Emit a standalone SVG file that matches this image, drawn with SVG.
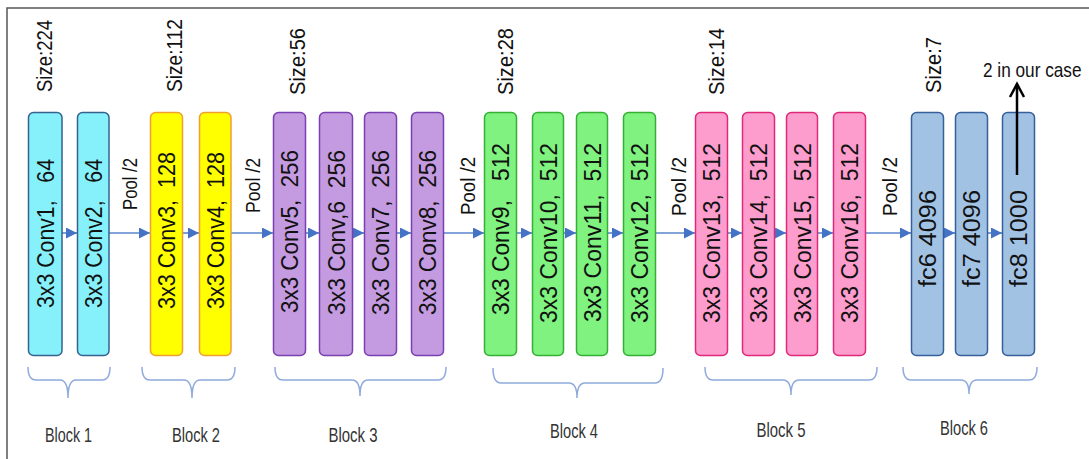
<svg xmlns="http://www.w3.org/2000/svg" width="1089" height="459" viewBox="0 0 1089 459">
<style>
.t{font-family:"Liberation Sans",Arial,sans-serif;fill:#111}
.bt{font-size:23px}
.sz{font-size:22px}
.pl{font-size:20px}
.blk{font-size:21px;fill:#333}
.c1{fill:#86f1fa;stroke:#35628f;stroke-width:1.5}
.c2{fill:#ffff00;stroke:#f0a030;stroke-width:1.5}
.c3{fill:#c49be0;stroke:#7a3fb0;stroke-width:1.5}
.c4{fill:#7ff27f;stroke:#35b035;stroke-width:1.5}
.c5{fill:#fd9dcd;stroke:#e0287a;stroke-width:1.5}
.c6{fill:#a2c2e4;stroke:#35609c;stroke-width:1.5}
.ln{stroke:#5a86cc;stroke-width:1.6;fill:none}
.br{stroke:#8faadc;stroke-width:1.5;fill:none}
</style>
<defs>
<marker id="ah" viewBox="0 0 10 10" refX="10" refY="5" markerWidth="11" markerHeight="11" markerUnits="userSpaceOnUse" orient="auto"><path d="M0,0 L10,5 L0,10 z" fill="#4472c4"/></marker>
</defs>
<g id="frame"><path d="M7,459 L7,8 L1089,8" fill="none" stroke="#555" stroke-width="1.5"/></g>

<g id="connectors">
<line class="ln" x1="62" y1="233" x2="77" y2="233" marker-end="url(#ah)"/>
<line class="ln" x1="109" y1="233" x2="150" y2="233" marker-end="url(#ah)"/>
<line class="ln" x1="183" y1="233" x2="199" y2="233" marker-end="url(#ah)"/>
<line class="ln" x1="231" y1="233" x2="273" y2="233" marker-end="url(#ah)"/>
<line class="ln" x1="306" y1="233" x2="319" y2="233" marker-end="url(#ah)"/>
<line class="ln" x1="353" y1="233" x2="364" y2="233" marker-end="url(#ah)"/>
<line class="ln" x1="397" y1="233" x2="411" y2="233" marker-end="url(#ah)"/>
<line class="ln" x1="444" y1="233" x2="484" y2="233" marker-end="url(#ah)"/>
<line class="ln" x1="517" y1="233" x2="532" y2="233" marker-end="url(#ah)"/>
<line class="ln" x1="564" y1="233" x2="576" y2="233" marker-end="url(#ah)"/>
<line class="ln" x1="608" y1="233" x2="623" y2="233" marker-end="url(#ah)"/>
<line class="ln" x1="656" y1="233" x2="695" y2="233" marker-end="url(#ah)"/>
<line class="ln" x1="728" y1="233" x2="742" y2="233" marker-end="url(#ah)"/>
<line class="ln" x1="775" y1="233" x2="786" y2="233" marker-end="url(#ah)"/>
<line class="ln" x1="818" y1="233" x2="833" y2="233" marker-end="url(#ah)"/>
<line class="ln" x1="866" y1="233" x2="911" y2="233" marker-end="url(#ah)"/>
<line class="ln" x1="944" y1="233" x2="955" y2="233" marker-end="url(#ah)"/>
<line class="ln" x1="988" y1="233" x2="1002" y2="233" marker-end="url(#ah)"/>
</g>

<g id="conv1"><rect class="c1" x="28.5" y="112.5" width="33.5" height="243" rx="5"/><text class="t bt" xml:space="preserve" transform="translate(53.5,308) rotate(-90)" textLength="149" lengthAdjust="spacingAndGlyphs">3x3 Conv1,   64</text></g>
<g id="conv2"><rect class="c1" x="77.5" y="112.5" width="31.5" height="243" rx="5"/><text class="t bt" xml:space="preserve" transform="translate(101.5,308) rotate(-90)" textLength="149" lengthAdjust="spacingAndGlyphs">3x3 Conv2,   64</text></g>
<g id="conv3"><rect class="c2" x="150.5" y="112.5" width="32" height="243" rx="5"/><text class="t bt" xml:space="preserve" transform="translate(175,309) rotate(-90)" textLength="157" lengthAdjust="spacingAndGlyphs">3x3 Conv3,  128</text></g>
<g id="conv4"><rect class="c2" x="199.5" y="112.5" width="31.5" height="243" rx="5"/><text class="t bt" xml:space="preserve" transform="translate(223.5,309) rotate(-90)" textLength="157" lengthAdjust="spacingAndGlyphs">3x3 Conv4,  128</text></g>
<g id="conv5"><rect class="c3" x="273.5" y="112.5" width="32" height="243" rx="5"/><text class="t bt" xml:space="preserve" transform="translate(298,313) rotate(-90)" textLength="163" lengthAdjust="spacingAndGlyphs">3x3 Conv5,  256</text></g>
<g id="conv6"><rect class="c3" x="319.5" y="112.5" width="33" height="243" rx="5"/><text class="t bt" xml:space="preserve" transform="translate(344.5,315) rotate(-90)" textLength="165" lengthAdjust="spacingAndGlyphs">3x3 Conv,6  256</text></g>
<g id="conv7"><rect class="c3" x="364.5" y="112.5" width="32" height="243" rx="5"/><text class="t bt" xml:space="preserve" transform="translate(389,315) rotate(-90)" textLength="165" lengthAdjust="spacingAndGlyphs">3x3 Conv7,  256</text></g>
<g id="conv8"><rect class="c3" x="411.5" y="112.5" width="32" height="243" rx="5"/><text class="t bt" xml:space="preserve" transform="translate(436,315) rotate(-90)" textLength="165" lengthAdjust="spacingAndGlyphs">3x3 Conv8,  256</text></g>
<g id="conv9"><rect class="c4" x="484.5" y="112.5" width="32" height="243" rx="5"/><text class="t bt" xml:space="preserve" transform="translate(509,315) rotate(-90)" textLength="172" lengthAdjust="spacingAndGlyphs">3x3 Conv9,   512</text></g>
<g id="conv10"><rect class="c4" x="532.5" y="112.5" width="31" height="243" rx="5"/><text class="t bt" xml:space="preserve" transform="translate(556.5,323) rotate(-90)" textLength="180" lengthAdjust="spacingAndGlyphs">3x3 Conv10,  512</text></g>
<g id="conv11"><rect class="c4" x="576.5" y="112.5" width="31" height="243" rx="5"/><text class="t bt" xml:space="preserve" transform="translate(600.5,322) rotate(-90)" textLength="179" lengthAdjust="spacingAndGlyphs">3x3 Conv11,  512</text></g>
<g id="conv12"><rect class="c4" x="623.5" y="112.5" width="32" height="243" rx="5"/><text class="t bt" xml:space="preserve" transform="translate(648,323) rotate(-90)" textLength="180" lengthAdjust="spacingAndGlyphs">3x3 Conv12,  512</text></g>
<g id="conv13"><rect class="c5" x="695.5" y="112.5" width="32" height="243" rx="5"/><text class="t bt" xml:space="preserve" transform="translate(720,323) rotate(-90)" textLength="180" lengthAdjust="spacingAndGlyphs">3x3 Conv13,  512</text></g>
<g id="conv14"><rect class="c5" x="742.5" y="112.5" width="32" height="243" rx="5"/><text class="t bt" xml:space="preserve" transform="translate(767,323) rotate(-90)" textLength="180" lengthAdjust="spacingAndGlyphs">3x3 Conv14,  512</text></g>
<g id="conv15"><rect class="c5" x="786.5" y="112.5" width="31" height="243" rx="5"/><text class="t bt" xml:space="preserve" transform="translate(810.5,323) rotate(-90)" textLength="180" lengthAdjust="spacingAndGlyphs">3x3 Conv15,  512</text></g>
<g id="conv16"><rect class="c5" x="833.5" y="112.5" width="32" height="243" rx="5"/><text class="t bt" xml:space="preserve" transform="translate(858,323) rotate(-90)" textLength="180" lengthAdjust="spacingAndGlyphs">3x3 Conv16,  512</text></g>
<g id="fc6"><rect class="c6" x="911.5" y="112.5" width="32" height="243" rx="5"/><text class="t bt" transform="translate(936,287) rotate(-90)" textLength="97" lengthAdjust="spacingAndGlyphs">fc6 4096</text></g>
<g id="fc7"><rect class="c6" x="955.5" y="112.5" width="32" height="243" rx="5"/><text class="t bt" transform="translate(980,287) rotate(-90)" textLength="97" lengthAdjust="spacingAndGlyphs">fc7 4096</text></g>
<g id="fc8"><rect class="c6" x="1002.5" y="112.5" width="32" height="243" rx="5"/><text class="t bt" transform="translate(1027,287) rotate(-90)" textLength="97" lengthAdjust="spacingAndGlyphs">fc8 1000</text></g>

<g id="output">
<line x1="1017" y1="175" x2="1017" y2="84" stroke="#000" stroke-width="2.5"/>
<path d="M1010,97 L1017,84 L1024,97" fill="none" stroke="#000" stroke-width="2.5"/>
<text class="t" transform="translate(983,77) scale(0.82,1)" font-size="21" fill="#000">2 in our case</text>
</g>

<g id="sizes">
<text class="t sz" transform="translate(52,92) rotate(-90)" textLength="72" lengthAdjust="spacingAndGlyphs">Size:224</text>
<text class="t sz" transform="translate(182,92) rotate(-90)" textLength="73" lengthAdjust="spacingAndGlyphs">Size:112</text>
<text class="t sz" transform="translate(305,95) rotate(-90)" textLength="67" lengthAdjust="spacingAndGlyphs">Size:56</text>
<text class="t sz" transform="translate(513,95) rotate(-90)" textLength="67" lengthAdjust="spacingAndGlyphs">Size:28</text>
<text class="t sz" transform="translate(724,95) rotate(-90)" textLength="67" lengthAdjust="spacingAndGlyphs">Size:14</text>
<text class="t sz" transform="translate(941,93) rotate(-90)" textLength="56" lengthAdjust="spacingAndGlyphs">Size:7</text>
</g>

<g id="pools">
<text class="t pl" transform="translate(137,210) rotate(-90)" textLength="52" lengthAdjust="spacingAndGlyphs">Pool /2</text>
<text class="t pl" transform="translate(260,213) rotate(-90)" textLength="55" lengthAdjust="spacingAndGlyphs">Pool /2</text>
<text class="t pl" transform="translate(475,215) rotate(-90)" textLength="58" lengthAdjust="spacingAndGlyphs">Pool /2</text>
<text class="t pl" transform="translate(686,216) rotate(-90)" textLength="59" lengthAdjust="spacingAndGlyphs">Pool /2</text>
<text class="t pl" transform="translate(897,216) rotate(-90)" textLength="59" lengthAdjust="spacingAndGlyphs">Pool /2</text>
</g>

<g id="braces">
<path class="br" d="M28,367 Q28,380 36,380 L60,380 Q68,380 68,398 Q68,380 76,380 L102,380 Q110,380 110,367"/>
<path class="br" d="M142,367 Q142,380 150,380 L184,380 Q192,380 192,398 Q192,380 200,380 L227,380 Q235,380 235,367"/>
<path class="br" d="M275,367 Q275,380 283,380 L352,380 Q360,380 360,396 Q360,380 368,380 L438,380 Q446,380 446,367"/>
<path class="br" d="M493,368 Q493,383 501,383 L569,383 Q577,383 577,398 Q577,383 585,383 L655,383 Q663,383 663,368"/>
<path class="br" d="M705,367 Q705,380 713,380 L783,380 Q791,380 791,395 Q791,380 799,380 L869,380 Q877,380 877,367"/>
<path class="br" d="M903,367 Q903,380 911,380 L961,380 Q969,380 969,394 Q969,380 977,380 L1029,380 Q1037,380 1037,367"/>
</g>

<g id="blocks">
<text class="t blk" x="68.5" y="442" text-anchor="middle" textLength="47" lengthAdjust="spacingAndGlyphs">Block 1</text>
<text class="t blk" x="196" y="442" text-anchor="middle" textLength="48" lengthAdjust="spacingAndGlyphs">Block 2</text>
<text class="t blk" x="353" y="442" text-anchor="middle" textLength="49" lengthAdjust="spacingAndGlyphs">Block 3</text>
<text class="t blk" x="574" y="438" text-anchor="middle" textLength="48" lengthAdjust="spacingAndGlyphs">Block 4</text>
<text class="t blk" x="781" y="437" text-anchor="middle" textLength="49" lengthAdjust="spacingAndGlyphs">Block 5</text>
<text class="t blk" x="964" y="435" text-anchor="middle" textLength="48" lengthAdjust="spacingAndGlyphs">Block 6</text>
</g>
</svg>
